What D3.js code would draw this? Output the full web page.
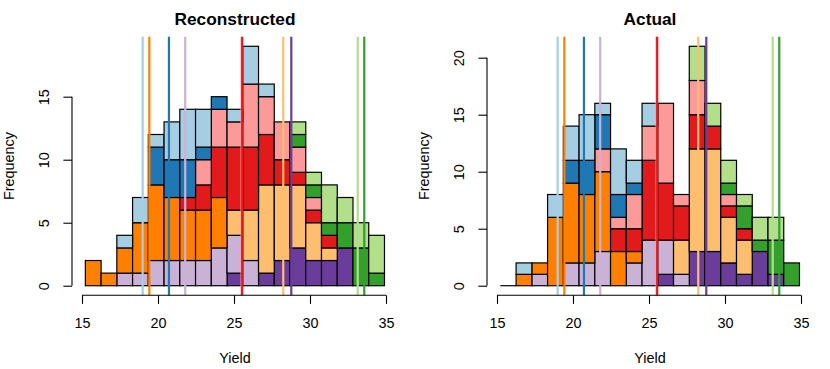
<!DOCTYPE html>
<html>
<head>
<meta charset="utf-8">
<script src="https://cdn.jsdelivr.net/npm/d3@7"></script>
<style>
  body { margin: 0; background: #fff; }
  text { font-family: "Liberation Sans", Arial, Helvetica, sans-serif; fill: #000; }
</style>
</head>
<body>
<div id="chart"></div>
<script>
// 19 histogram bins, shared by both panels
const binStart = 15.22;
const binEnd = 34.9;
const binCount = 19;

// Paired palette, group 1..10
const groupColors = ['#A6CEE3', '#1F78B4', '#B2DF8A', '#33A02C', '#FB9A99',
  '#E31A1C', '#FDBF6F', '#FF7F00', '#CAB2D6', '#6A3D9A'];

// group means (vertical lines)
const groupMeans = [18.99, 20.72, 33.14, 33.57, 25.5, 25.54, 28.24, 19.43, 21.79, 28.77];

// counts per bin, one row per group (Reconstructed)
const reconCounts = [
  [0,0,1,2,1,3,4,3,0,1,3,1,0,0,0,0,0,0,0],
  [0,0,0,0,3,3,3,1,1,0,0,0,0,0,0,0,0,0,0],
  [0,0,0,0,0,0,0,0,0,0,0,0,0,1,1,3,2,2,3],
  [0,0,0,0,0,0,0,0,0,0,0,0,0,1,1,1,2,3,1],
  [0,0,0,0,0,0,0,2,3,2,5,3,3,2,1,0,0,0,0],
  [0,0,0,0,0,0,1,2,4,5,5,4,2,1,1,1,0,0,0],
  [0,0,0,0,0,0,0,0,0,2,4,7,6,5,3,1,0,0,0],
  [2,1,2,4,6,5,4,4,4,0,0,0,0,0,0,0,0,0,0],
  [0,0,1,1,2,2,2,2,3,3,2,0,0,0,0,0,0,0,0],
  [0,0,0,0,0,0,0,0,0,1,0,1,2,3,2,2,3,0,0]
];

// counts per bin, one row per group (Actual)
const actualCounts = [
  [0,1,0,2,3,4,1,4,2,2,0,0,0,0,0,0,0,0,0],
  [0,0,0,0,2,3,3,2,1,0,0,0,0,0,0,0,0,0,0],
  [0,0,0,0,0,0,0,0,0,0,0,0,3,2,2,1,2,2,0],
  [0,0,0,0,0,0,0,0,0,0,0,0,0,0,1,2,1,3,2],
  [0,0,0,0,0,0,2,1,3,3,7,1,3,0,1,0,0,0,0],
  [0,0,0,0,0,0,0,2,2,7,5,3,3,2,1,1,0,0,0],
  [0,0,0,0,0,0,0,0,0,0,0,3,9,9,4,3,0,0,0],
  [0,1,1,6,7,6,7,3,1,0,0,0,0,0,0,0,0,0,0],
  [0,0,1,0,2,2,3,0,2,4,3,1,0,0,0,0,0,0,0],
  [0,0,0,0,0,0,0,0,0,0,1,0,3,3,2,1,3,1,0]
];

const xTicks = [15, 20, 25, 30, 35];
const reconYTicks = [0, 5, 10, 15];
const actualYTicks = [0, 5, 10, 15, 20];

const width = 830, height = 369;
const svg = d3.select('#chart')
  .append('svg')
  .attr('width', width)
  .attr('height', height);

function renderPanel(offset, title, counts, yTicks) {
  const g = svg.append('g')
    .attr('transform', `translate(${offset},0)`);

  const binW = (binEnd - binStart) / binCount;
  const bins = d3.range(binCount).map(i => {
    const row = { x0: binStart + i * binW, x1: binStart + (i + 1) * binW };
    counts.forEach((c, k) => { row['g' + k] = c[i]; });
    return row;
  });
  // stack from group 10 at the bottom up to group 1
  const keys = d3.range(10).reverse().map(k => 'g' + k);
  const series = d3.stack().keys(keys)(bins);
  const top = series[series.length - 1];
  const yMax = d3.max(top, d => d[1]);

  const x = d3.scaleLinear().domain([15, 35]).range([82, 386]);
  const y = d3.scaleLinear()
    .domain([-0.04 * yMax, yMax * 1.04])
    .range([295.3, 36.7]);

  const layers = g.selectAll('g.layer')
    .data(series)
    .join('g')
    .attr('class', 'layer')
    .style('fill', s => groupColors[+s.key.slice(1)]);

  layers.selectAll('rect')
    .data(s => s.filter(d => d[1] > d[0]))
    .join('rect')
    .attr('x', d => x(d.data.x0))
    .attr('width', d => x(d.data.x1) - x(d.data.x0))
    .attr('y', d => y(d[1]))
    .attr('height', d => y(d[0]) - y(d[1]))
    .style('stroke', '#000')
    .style('stroke-width', 1.2);

  // empty bins still get a flat outline at zero
  g.selectAll('line.empty')
    .data(top.filter(d => d[1] === 0))
    .join('line')
    .attr('class', 'empty')
    .attr('x1', d => x(d.data.x0))
    .attr('x2', d => x(d.data.x1))
    .attr('y1', y(0))
    .attr('y2', y(0))
    .style('stroke', '#000')
    .style('stroke-width', 1.2);

  // mean lines
  g.selectAll('line.mean')
    .data(groupMeans)
    .join('line')
    .attr('class', 'mean')
    .attr('x1', d => x(d))
    .attr('x2', d => x(d))
    .attr('y1', 36.7)
    .attr('y2', 295.3)
    .style('stroke', (d, i) => groupColors[i])
    .style('stroke-width', 2.2);

  // x axis
  g.append('g')
    .attr('transform', 'translate(0,295.3)')
    .call(d3.axisBottom(x).tickValues(xTicks).tickSize(8.6).tickPadding(0).tickFormat(d3.format('d')))
    .call(a => a.select('.domain').attr('d', `M${x(15)},0H${x(35)}`))
    .call(a => a.selectAll('line, path').style('stroke', '#000').style('stroke-width', 1.1))
    .call(a => a.selectAll('text').attr('y', 32.7).attr('dy', null)
      .style('font-size', '14.4px').attr('fill', '#000'));

  // y axis
  g.append('g')
    .attr('transform', 'translate(72,0)')
    .call(d3.axisLeft(y).tickValues(yTicks).tickSize(8.6).tickFormat(d3.format('d')))
    .call(a => a.select('.domain').attr('d', `M0,${y(yTicks[0])}V${y(yTicks[yTicks.length - 1])}`))
    .call(a => a.selectAll('line, path').style('stroke', '#000').style('stroke-width', 1.1))
    .call(a => a.selectAll('text')
      .attr('x', null).attr('dy', null)
      .attr('transform', 'translate(-23,0) rotate(-90)')
      .attr('text-anchor', 'middle')
      .style('font-size', '14.4px').attr('fill', '#000'));

  g.append('text')
    .text(title)
    .attr('x', 235)
    .attr('y', 24.5)
    .attr('text-anchor', 'middle')
    .style('font-weight', 'bold')
    .style('font-size', '17.3px');

  g.append('text')
    .text('Yield')
    .attr('x', 235)
    .attr('y', 363)
    .attr('text-anchor', 'middle')
    .style('font-size', '14.4px');

  g.append('text')
    .text('Frequency')
    .attr('transform', 'translate(14,166) rotate(-90)')
    .attr('text-anchor', 'middle')
    .style('font-size', '14.4px');
}

renderPanel(0, 'Reconstructed', reconCounts, reconYTicks);
renderPanel(415, 'Actual', actualCounts, actualYTicks);
</script>
</body>
</html>
